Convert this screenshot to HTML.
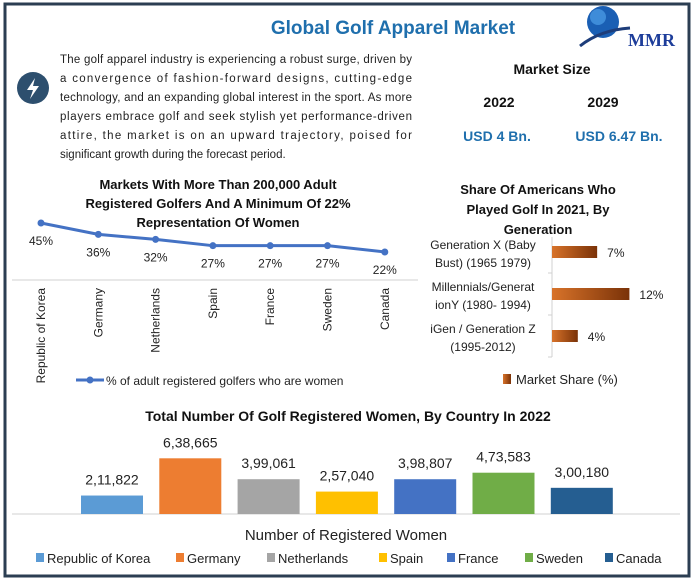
<!DOCTYPE html>
<html><head><meta charset="utf-8"><style>
html,body{margin:0;padding:0;background:#fff}
svg{display:block;font-family:"Liberation Sans",sans-serif}
</style></head><body>
<svg width="695" height="581" viewBox="0 0 695 581">
<rect x="5" y="4" width="684" height="572" fill="#fff" stroke="#2b3e52" stroke-width="3"/>
<text x="393" y="34" text-anchor="middle" font-size="19" font-weight="bold" fill="#1f6fad">Global Golf Apparel Market</text>
<g>
<circle cx="603" cy="22" r="16" fill="#1a5fb4"/>
<circle cx="598" cy="17" r="8" fill="#4fa0e8" opacity="0.7"/>
<path d="M580 46 Q600 30 630 28" stroke="#1d3d7a" stroke-width="3" fill="none"/>
<text x="628" y="46" font-family="Liberation Serif,serif" font-size="18" font-weight="bold" fill="#1d3d9a">MMR</text>
</g>
<g>
<circle cx="33" cy="88" r="16" fill="#2d4f6e"/>
<path d="M35 78 L27 90 L33 90 L30 99 L39 86 L33 86 Z" fill="#fff"/>
</g>
<g font-size="11.5" fill="#222">
<text x="60" y="63" textLength="352" lengthAdjust="spacing">The golf apparel industry is experiencing a robust surge, driven by</text>
<text x="60" y="82" textLength="352" lengthAdjust="spacing">a convergence of fashion-forward designs, cutting-edge</text>
<text x="60" y="101" textLength="352" lengthAdjust="spacing">technology, and an expanding global interest in the sport. As more</text>
<text x="60" y="120" textLength="352" lengthAdjust="spacing">players embrace golf and seek stylish yet performance-driven</text>
<text x="60" y="139" textLength="352" lengthAdjust="spacing">attire, the market is on an upward trajectory, poised for</text>
<text x="60" y="158">significant growth during the forecast period.</text>
</g>
<text x="552" y="74" text-anchor="middle" font-size="14" font-weight="bold" fill="#111">Market Size</text>
<text x="499" y="107" text-anchor="middle" font-size="14" font-weight="bold" fill="#111">2022</text>
<text x="603" y="107" text-anchor="middle" font-size="14" font-weight="bold" fill="#111">2029</text>
<text x="497" y="141" text-anchor="middle" font-size="14" font-weight="bold" fill="#1f6fad">USD 4 Bn.</text>
<text x="619" y="141" text-anchor="middle" font-size="14" font-weight="bold" fill="#1f6fad">USD 6.47 Bn.</text>

<g font-size="13" font-weight="bold" fill="#111" text-anchor="middle">
<text x="218" y="189">Markets With More Than 200,000 Adult</text>
<text x="218" y="208">Registered Golfers And A Minimum Of 22%</text>
<text x="218" y="227">Representation Of Women</text>
</g>
<g id="line"></g>

<g font-size="13" font-weight="bold" fill="#111" text-anchor="middle">
<text x="538" y="194">Share Of Americans Who</text>
<text x="538" y="214">Played Golf In 2021, By</text>
<text x="538" y="234">Generation</text>
</g>
<g id="hbar"></g>

<text x="348" y="421" text-anchor="middle" font-size="14" font-weight="bold" fill="#111">Total Number Of Golf Registered Women, By Country In 2022</text>
<g id="vbar"></g>
<text x="346" y="540" text-anchor="middle" font-size="15" fill="#222">Number of Registered Women</text>
<g id="vlegend"></g>
</svg>
<script>
const lineCats = ["Republic of Korea","Germany","Netherlands","Spain","France","Sweden","Canada"];
const lineVals = [45,36,32,27,27,27,22];
const genCats = [["Generation X (Baby","Bust) (1965 1979)"],["Millennials/Generat","ionY (1980- 1994)"],["iGen / Generation Z","(1995-2012)"]];
const genVals = [7,12,4];
const barCats = ["Republic of Korea","Germany","Netherlands","Spain","France","Sweden","Canada"];
const barVals = [211822,638665,399061,257040,398807,473583,300180];
const barLabels = ["2,11,822","6,38,665","3,99,061","2,57,040","3,98,807","4,73,583","3,00,180"];
const barColors = ["#5b9bd5","#ed7d31","#a5a5a5","#ffc000","#4472c4","#70ad47","#255e91"];

const NS="http://www.w3.org/2000/svg";
function mk(tag,attrs,parent,txt){const e=document.createElementNS(NS,tag);for(const k in attrs)e.setAttribute(k,attrs[k]);if(txt!==undefined)e.textContent=txt;parent.appendChild(e);return e;}

// line chart
const L=document.getElementById('line');
const lx=i=>41+i*57.3, ly=v=>223-(v-45)*1.26;
let ax=mk('line',{x1:12,y1:280,x2:418,y2:280,stroke:'#d0d0d0'},L);


let pts=lineVals.map((v,i)=>lx(i)+','+ly(v)).join(' ');
let pl=mk('polyline',{points:pts,fill:'none',stroke:'#4472c4','stroke-width':3},L);


lineVals.forEach((v,i)=>{
 let c=mk('circle',{cx:lx(i),cy:ly(v),r:3.5,fill:'#4472c4'},L);
 
 
 let t=mk('text',{x:lx(i),y:ly(v)+22,'text-anchor':'middle','font-size':12,fill:'#222'},L,v+'%');
 
 
 let xl=mk('text',{transform:`translate(${lx(i)+4},288) rotate(-90)`,'text-anchor':'end','font-size':12,fill:'#222'},L,lineCats[i]);
 
 
});
let lg=mk('g',{},L);


mk('line',{x1:76,y1:380,x2:104,y2:380,stroke:'#4472c4','stroke-width':3},lg);
mk('circle',{cx:90,cy:380,r:3.5,fill:'#4472c4'},lg);
mk('text',{x:106,y:385,'font-size':12,fill:'#222'},lg,'% of adult registered golfers who are women');

// horizontal bar
const H=document.getElementById('hbar');
const defs=mk('defs',{},H);
const gr=mk('linearGradient',{id:'og',x1:0,x2:1,y1:0,y2:0},defs);
mk('stop',{offset:0,'stop-color':'#d8732a'},gr);
mk('stop',{offset:1,'stop-color':'#7a3208'},gr);
const hx=v=>552+v*6.45;
let hax=mk('line',{x1:552,y1:237,x2:552,y2:357,stroke:'#d0d0d0'},H);


genVals.forEach((v,i)=>{
 const cy=252+i*42;
 mk('line',{x1:548,y1:cy+21,x2:552,y2:cy+21,stroke:'#d0d0d0'},H);
 let r=mk('rect',{x:552,y:cy-6,width:hx(v)-552,height:12,fill:'url(#og)'},H);
 
 
 let t=mk('text',{x:hx(v)+10,y:cy+5,'font-size':12,fill:'#222'},H,v+'%');
 
 
 genCats[i].forEach((s,j)=>{
  let c=mk('text',{x:483,y:cy-3+j*18,'text-anchor':'middle','font-size':12,fill:'#222'},H,s);
  
  
 });
});
let hl=mk('g',{},H);


mk('rect',{x:503,y:374,width:8,height:10,fill:'url(#og)'},hl);
mk('text',{x:516,y:384,'font-size':13,fill:'#222'},hl,'Market Share (%)');

// vertical bar
const V=document.getElementById('vbar');
const base=514, vy=v=>base-v*0.0000872;
let vax=mk('line',{x1:12,y1:base,x2:680,y2:base,stroke:'#d0d0d0'},V);


barVals.forEach((v,i)=>{
 const x=81+i*78.3;
 let r=mk('rect',{x:x,y:vy(v),width:62,height:base-vy(v),fill:barColors[i]},V);
 
 
 let t=mk('text',{x:x+31,y:vy(v)-11,'text-anchor':'middle','font-size':14,fill:'#222'},V,barLabels[i]);
 
 
});
const VL=document.getElementById('vlegend');
const lxs=[36,176,267,379,447,525,605];
barCats.forEach((c,i)=>{
 let g=mk('g',{},VL);
 
 
 mk('rect',{x:lxs[i],y:553,width:8,height:9,fill:barColors[i]},g);
 mk('text',{x:lxs[i]+11,y:563,'font-size':13,fill:'#222'},g,c);
});
</script>
</body></html>
